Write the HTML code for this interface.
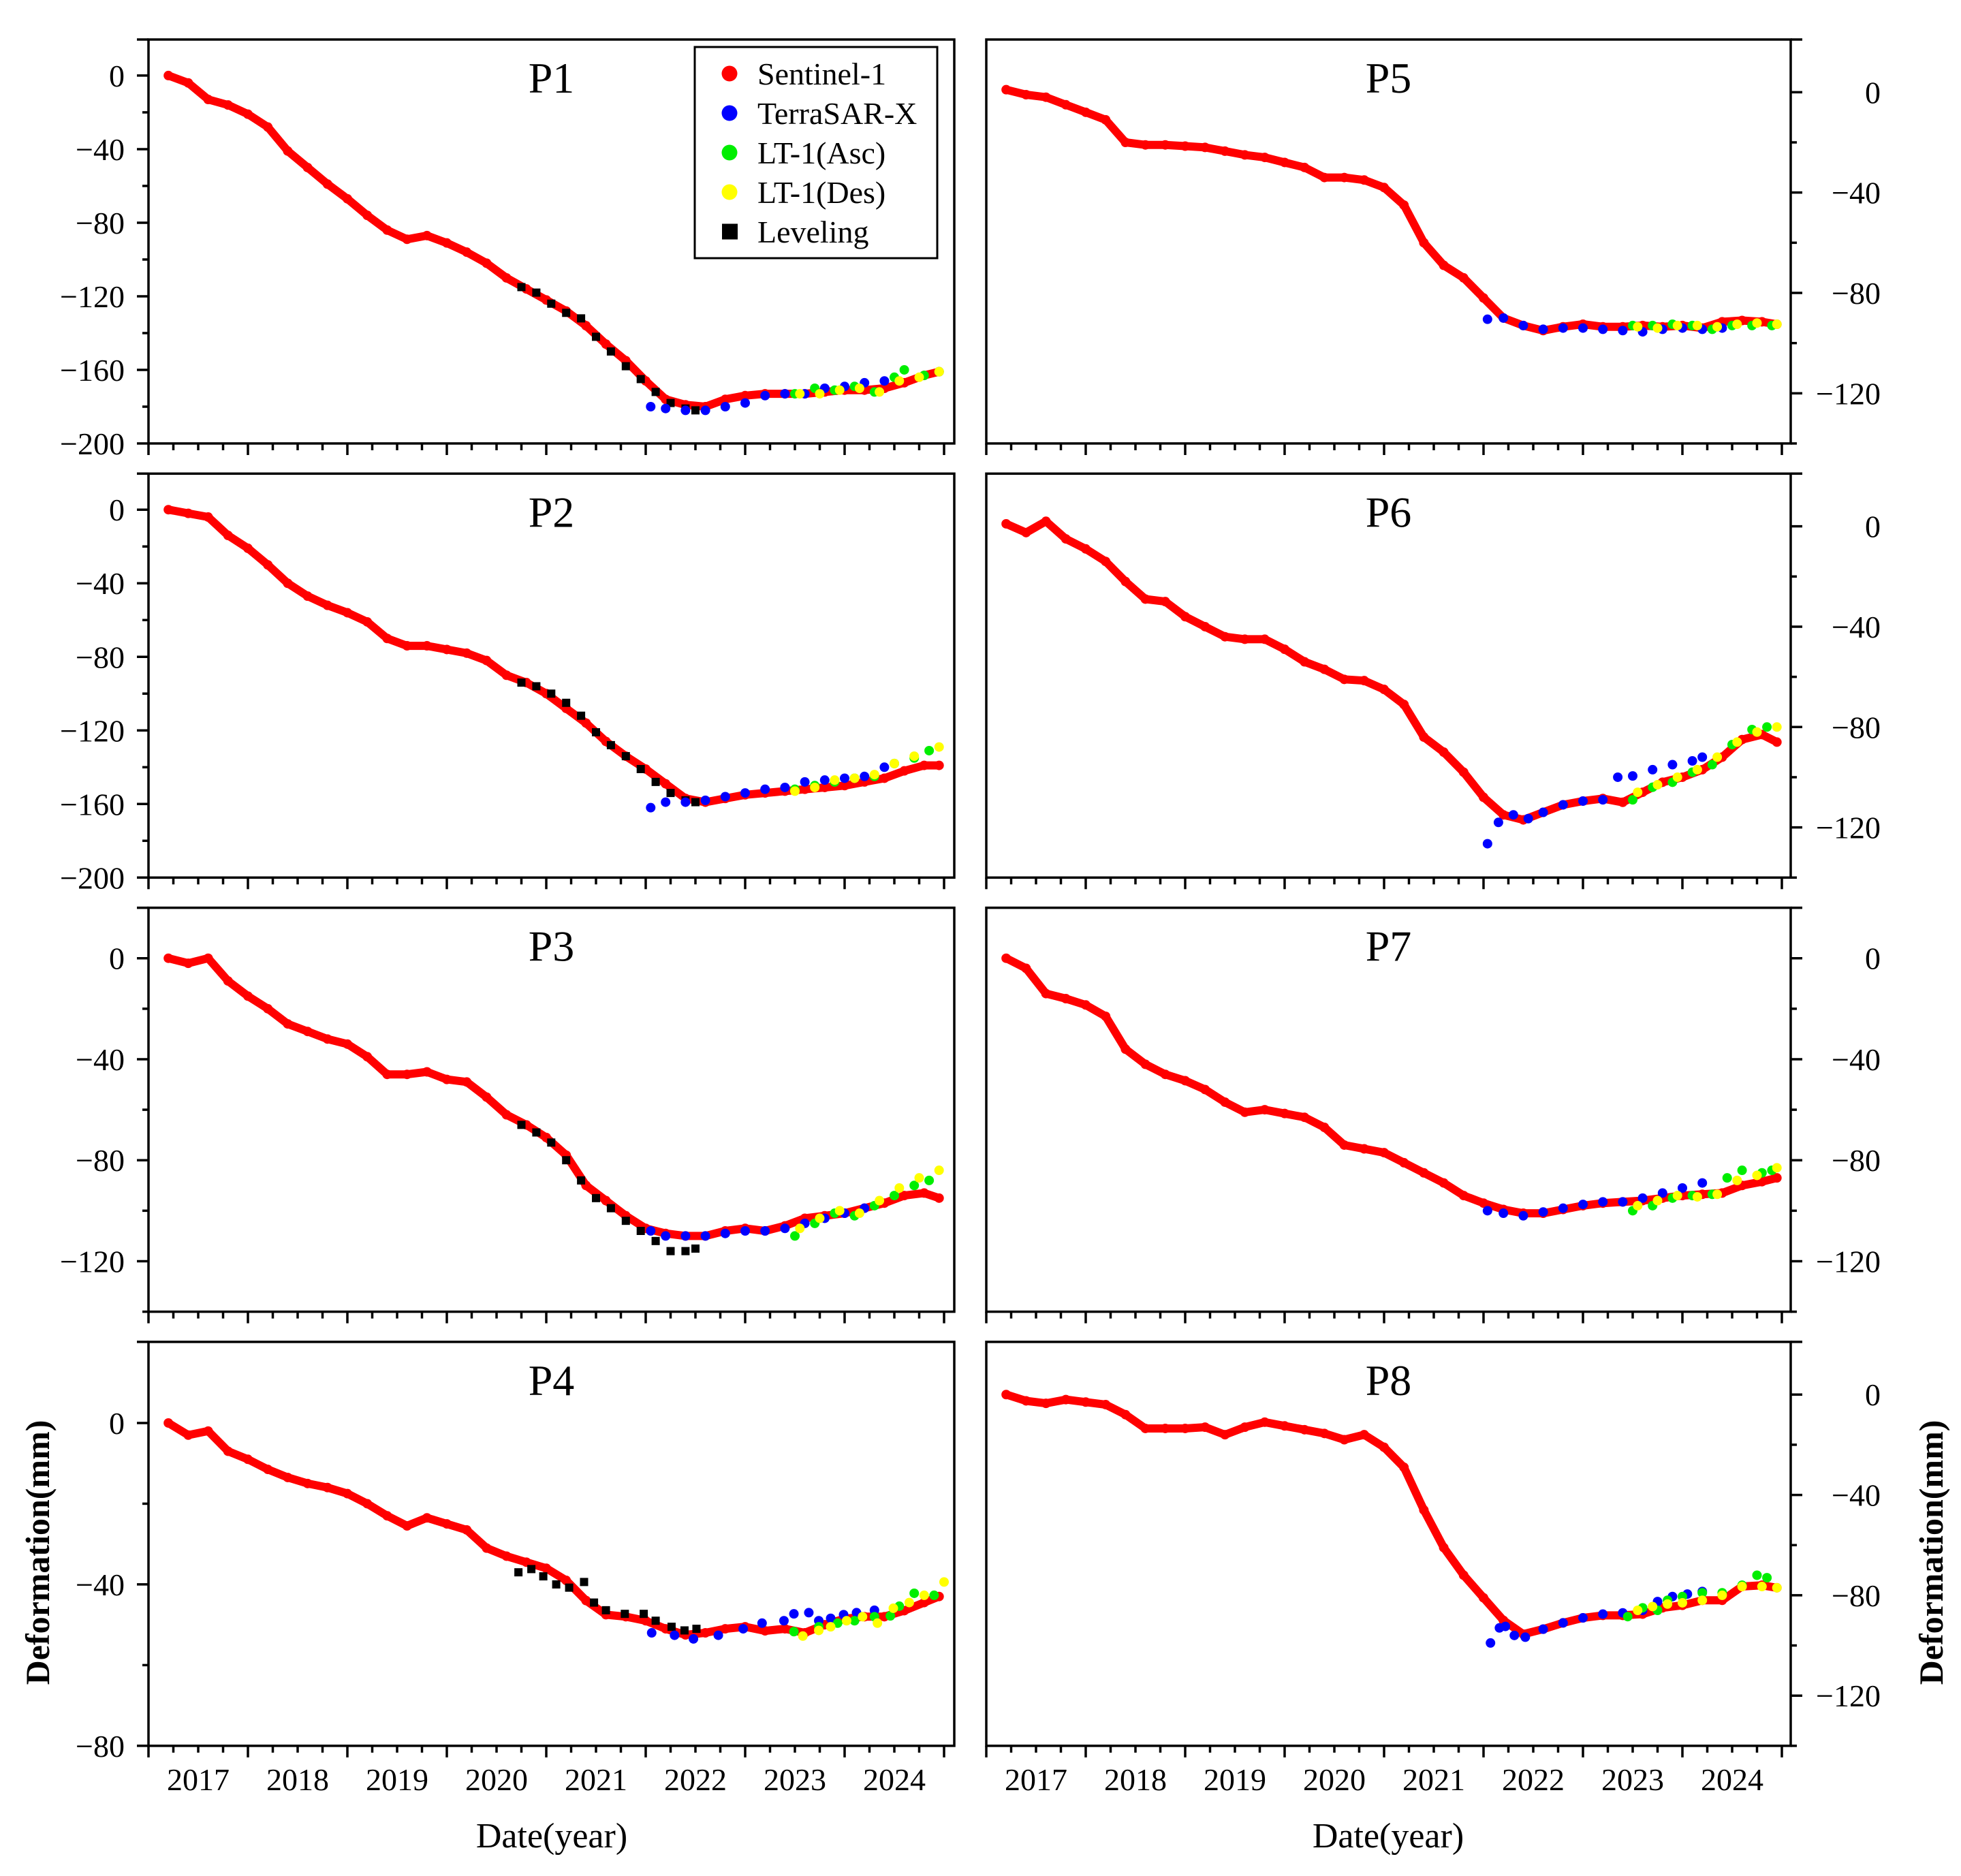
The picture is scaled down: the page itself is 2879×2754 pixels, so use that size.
<!DOCTYPE html>
<html><head><meta charset="utf-8"><style>
html,body{margin:0;padding:0;background:#fff;}
svg{display:block;font-family:"Liberation Serif",serif;}
</style></head><body>
<svg id="fig" xmlns="http://www.w3.org/2000/svg" width="2879" height="2754" viewBox="0 0 2879 2754">
<rect x="0" y="0" width="2879" height="2754" fill="#fff"/>
</svg>
<script>
// ---- shared categories ----
const s1Dates=[2017.2,2017.4,2017.6,2017.8,2018.0,2018.2,2018.4,2018.6,2018.8,2019.0,2019.2,2019.4,2019.6,2019.8,2020.0,2020.2,2020.4,2020.6,2020.8,2021.0,2021.2,2021.4,2021.6,2021.8,2022.0,2022.2,2022.4,2022.6,2022.8,2023.0,2023.2,2023.4,2023.6,2023.8,2024.0,2024.2,2024.4,2024.6,2024.8,2024.95];
const yearLabels=["2017","2018","2019","2020","2021","2022","2023","2024"];
const seriesNames=["Sentinel-1","TerraSAR-X","LT-1(Asc)","LT-1(Des)","Leveling"];

// ---- P1 ----
const p1S1=[0,-4,-13,-16,-21,-28,-41,-50,-59,-67,-76,-84,-89,-87,-91,-96,-102,-110,-116,-122,-128,-136,-146,-155,-166,-176,-179,-180,-176,-174,-173,-173,-173,-172,-171,-171,-170,-167,-163,-161];
const p1TsxD=[2022.05,2022.2,2022.4,2022.6,2022.8,2023.0,2023.2,2023.4,2023.6,2023.8,2024.0,2024.2,2024.4];
const p1TsxV=[-180,-181,-182,-182,-180,-178,-174,-173,-173,-170,-169,-167,-166];
const p1AscD=[2023.5,2023.7,2023.9,2024.1,2024.3,2024.5,2024.6,2024.8,2024.95];
const p1AscV=[-173,-170,-171,-169,-172,-164,-160,-163,-161];
const p1DesD=[2023.55,2023.75,2023.95,2024.15,2024.35,2024.55,2024.75,2024.95];
const p1DesV=[-173,-173,-171,-170,-172,-166,-164,-161];
const p1LevD=[2020.75,2020.9,2021.05,2021.2,2021.35,2021.5,2021.65,2021.8,2021.95,2022.1,2022.25,2022.4,2022.5];
const p1LevV=[-115,-118,-124,-129,-132,-142,-150,-158,-165,-172,-178,-181,-182];
// ---- P2 ----
const p2S1=[0,-2,-4,-14,-21,-30,-40,-47,-52,-56,-61,-70,-74,-74,-76,-78,-82,-90,-94,-100,-108,-116,-126,-134,-141,-149,-157,-159,-157,-155,-154,-153,-152,-151,-150,-148,-146,-142,-139,-139];
const p2TsxD=[2022.05,2022.2,2022.4,2022.6,2022.8,2023.0,2023.2,2023.4,2023.6,2023.8,2024.0,2024.2,2024.4];
const p2TsxV=[-162,-159,-159,-158,-156,-154,-152,-151,-148,-147,-146,-145,-140];
const p2AscD=[2023.5,2023.7,2023.9,2024.1,2024.3,2024.5,2024.7,2024.85];
const p2AscV=[-152,-150,-148,-146,-145,-138,-135,-131];
const p2DesD=[2023.5,2023.7,2023.9,2024.1,2024.3,2024.5,2024.7,2024.95];
const p2DesV=[-153,-151,-147,-146,-144,-138,-134,-129];
const p2LevD=[2020.75,2020.9,2021.05,2021.2,2021.35,2021.5,2021.65,2021.8,2021.95,2022.1,2022.25,2022.4,2022.5];
const p2LevV=[-94,-96,-100,-105,-112,-121,-128,-134,-141,-148,-154,-158,-159];
// ---- P3 ----
const p3S1=[0,-2,0,-9,-15,-20,-26,-29,-32,-34,-39,-46,-46,-45,-48,-49,-55,-62,-66,-71,-78,-90,-96,-102,-107,-109,-110,-110,-108,-107,-108,-106,-103,-102,-101,-99,-97,-94,-93,-95];
const p3TsxD=[2022.05,2022.2,2022.4,2022.6,2022.8,2023.0,2023.2,2023.4,2023.6,2023.8,2024.0,2024.2];
const p3TsxV=[-108,-110,-110,-110,-109,-108,-108,-107,-105,-103,-101,-99];
const p3AscD=[2023.5,2023.7,2023.9,2024.1,2024.3,2024.5,2024.7,2024.85];
const p3AscV=[-110,-105,-101,-102,-98,-94,-90,-88];
const p3DesD=[2023.55,2023.75,2023.95,2024.15,2024.35,2024.55,2024.75,2024.95];
const p3DesV=[-107,-103,-100,-101,-96,-91,-87,-84];
const p3LevD=[2020.75,2020.9,2021.05,2021.2,2021.35,2021.5,2021.65,2021.8,2021.95,2022.1,2022.25,2022.4,2022.5];
const p3LevV=[-66,-69,-73,-80,-88,-95,-99,-104,-108,-112,-116,-116,-115];
// ---- P4 ----
const p4S1=[0,-3,-2,-7,-9,-11.5,-13.5,-15,-16,-17.5,-20,-23,-25.5,-23.5,-25,-26.5,-31,-33,-34.5,-36,-39,-44,-47.5,-48,-49,-51,-52.5,-52,-51,-50.5,-51.5,-51,-52,-50,-48.5,-48,-48,-46.5,-44.5,-43];
const p4TsxD=[2022.06,2022.29,2022.48,2022.73,2022.98,2023.17,2023.39,2023.49,2023.64,2023.74,2023.86,2023.99,2024.12,2024.3];
const p4TsxV=[-52,-52.6,-53.5,-52.6,-51,-49.6,-49,-47.3,-47,-49,-48.4,-47.5,-47,-46.4];
const p4AscD=[2023.49,2023.74,2023.93,2024.1,2024.3,2024.46,2024.55,2024.7,2024.9];
const p4AscV=[-51.7,-50.5,-49.6,-49,-48,-47.8,-45.4,-42.2,-42.7];
const p4DesD=[2023.58,2023.74,2023.86,2024.02,2024.18,2024.33,2024.49,2024.65,2024.8,2025.0];
const p4DesV=[-52.8,-51.4,-50.5,-49,-48,-49.6,-45.9,-44.5,-42.7,-39.4];
const p4LevD=[2020.72,2020.85,2020.97,2021.1,2021.23,2021.38,2021.48,2021.6,2021.79,2021.98,2022.1,2022.26,2022.39,2022.51];
const p4LevV=[-37,-36.2,-38,-40,-40.8,-39.4,-44.5,-46.4,-47.3,-47.3,-49,-50.5,-51.4,-51];
// ---- P5 ----
const p5S1=[1,-1,-2,-5,-8,-11,-20,-21,-21,-21.5,-22,-23.5,-25,-26,-28,-30,-34,-34,-35,-38,-45,-60,-69,-74,-82,-90,-93,-95,-93.5,-92.5,-93.5,-93.5,-93,-93.5,-93,-94,-91.5,-91,-91.5,-92.5];
const p5TsxD=[2022.04,2022.2,2022.4,2022.6,2022.8,2023.0,2023.2,2023.4,2023.6,2023.8,2024.0,2024.2,2024.4];
const p5TsxV=[-90.5,-90,-93,-94.5,-94,-94,-94.5,-95,-95.5,-94.5,-94,-94.5,-94];
const p5AscD=[2023.5,2023.7,2023.9,2024.1,2024.3,2024.5,2024.7,2024.9];
const p5AscV=[-93,-93,-92.5,-93,-94.5,-93,-93,-93];
const p5DesD=[2023.55,2023.75,2023.95,2024.15,2024.35,2024.55,2024.75,2024.95];
const p5DesV=[-93.5,-94,-93,-93,-93.5,-92.5,-92,-92.5];
// ---- P6 ----
const p6S1=[1,-2.5,2,-5,-9,-14,-22,-29,-30,-36,-40,-44,-45,-45,-49,-54,-57,-61,-61.5,-65,-71,-84,-90,-98,-108,-115,-117,-114,-111,-109.5,-108.5,-110,-106,-102,-100,-97,-92,-85,-83,-86];
const p6TsxD=[2022.04,2022.15,2022.3,2022.45,2022.6,2022.8,2023.0,2023.2,2023.35,2023.5,2023.7,2023.9,2024.1,2024.2];
const p6TsxV=[-126.5,-118,-115,-116.5,-114,-111,-109.5,-109,-100,-99.5,-97,-95,-93.5,-92];
const p6AscD=[2023.5,2023.7,2023.9,2024.1,2024.3,2024.5,2024.7,2024.85];
const p6AscV=[-109,-104,-102,-98,-95,-87,-81,-80];
const p6DesD=[2023.55,2023.75,2023.95,2024.15,2024.35,2024.55,2024.75,2024.95];
const p6DesV=[-106,-103,-100,-97,-92,-86,-82,-80];
// ---- P7 ----
const p7S1=[0,-4,-14,-16,-18.5,-23,-36,-42,-46,-48.5,-52,-57,-61,-60,-61.5,-63,-67,-74,-75.5,-77,-81,-85,-89,-94,-97,-99.5,-101,-101,-99.5,-98,-97,-96.5,-96,-95,-94,-93.5,-93,-90,-88.5,-87];
const p7TsxD=[2022.04,2022.2,2022.4,2022.6,2022.8,2023.0,2023.2,2023.4,2023.6,2023.8,2024.0,2024.2];
const p7TsxV=[-100,-101,-102,-100.5,-99,-97.5,-96.5,-96.5,-95,-93,-91,-89];
const p7AscD=[2023.5,2023.7,2023.9,2024.1,2024.3,2024.45,2024.6,2024.8,2024.9];
const p7AscV=[-100,-98,-95,-94,-93.5,-87,-84,-85,-84];
const p7DesD=[2023.55,2023.75,2023.95,2024.15,2024.35,2024.55,2024.75,2024.95];
const p7DesV=[-98,-96,-94,-94.5,-93.5,-88,-86,-83];
// ---- P8 ----
const p8S1=[0,-2.5,-3.5,-2,-3,-4,-8,-13.5,-13.5,-13.5,-13,-16,-13,-11,-12.5,-14,-15.5,-18,-16,-21,-29,-46,-61,-72,-81,-90,-95.5,-93.5,-91,-89,-88,-88,-87.5,-85,-84,-82,-82,-76.5,-76,-77];
const p8TsxD=[2022.07,2022.16,2022.22,2022.31,2022.42,2022.6,2022.8,2023.0,2023.2,2023.4,2023.6,2023.75,2023.9,2024.05,2024.2];
const p8TsxV=[-99,-93,-92.4,-96,-96.7,-93.5,-91,-89,-87.5,-87,-86,-82.5,-80.5,-79.5,-78.5];
const p8AscD=[2023.45,2023.6,2023.75,2023.85,2024.0,2024.2,2024.4,2024.6,2024.75,2024.85];
const p8AscV=[-88.5,-85,-86,-82,-80.5,-79,-79,-76,-72,-73];
const p8DesD=[2023.55,2023.7,2023.85,2024.0,2024.2,2024.4,2024.6,2024.8,2024.95];
const p8DesV=[-86,-84.5,-83.5,-83,-82,-80,-76.5,-76.5,-77];

const NS="http://www.w3.org/2000/svg";
const svg=document.getElementById('fig');
function mk(tag,attrs,parent){const e=document.createElementNS(NS,tag);for(const k in attrs)e.setAttribute(k,attrs[k]);(parent||svg).appendChild(e);return e;}

const YR=146, PH=593, ROWSTEP=637.3;
const panels=[
 {name:"P1",col:0,row:0,top:19.6,bot:-200,ticks:[0,-40,-80,-120,-160,-200],s1:p1S1,tsx:[p1TsxD,p1TsxV],asc:[p1AscD,p1AscV],des:[p1DesD,p1DesV],lev:[p1LevD,p1LevV]},
 {name:"P2",col:0,row:1,top:19.6,bot:-200,ticks:[0,-40,-80,-120,-160,-200],s1:p2S1,tsx:[p2TsxD,p2TsxV],asc:[p2AscD,p2AscV],des:[p2DesD,p2DesV],lev:[p2LevD,p2LevV]},
 {name:"P3",col:0,row:2,top:20,bot:-140,ticks:[0,-40,-80,-120],s1:p3S1,tsx:[p3TsxD,p3TsxV],asc:[p3AscD,p3AscV],des:[p3DesD,p3DesV],lev:[p3LevD,p3LevV]},
 {name:"P4",col:0,row:3,top:20.1,bot:-80,ticks:[0,-40,-80],s1:p4S1,tsx:[p4TsxD,p4TsxV],asc:[p4AscD,p4AscV],des:[p4DesD,p4DesV],lev:[p4LevD,p4LevV]},
 {name:"P5",col:1,row:0,top:21,bot:-140,ticks:[0,-40,-80,-120],s1:p5S1,tsx:[p5TsxD,p5TsxV],asc:[p5AscD,p5AscV],des:[p5DesD,p5DesV],lev:null},
 {name:"P6",col:1,row:1,top:21,bot:-140,ticks:[0,-40,-80,-120],s1:p6S1,tsx:[p6TsxD,p6TsxV],asc:[p6AscD,p6AscV],des:[p6DesD,p6DesV],lev:null},
 {name:"P7",col:1,row:2,top:20,bot:-140,ticks:[0,-40,-80,-120],s1:p7S1,tsx:[p7TsxD,p7TsxV],asc:[p7AscD,p7AscV],des:[p7DesD,p7DesV],lev:null},
 {name:"P8",col:1,row:3,top:21,bot:-140,ticks:[0,-40,-80,-120],s1:p8S1,tsx:[p8TsxD,p8TsxV],asc:[p8AscD,p8AscV],des:[p8DesD,p8DesV],lev:null}
];
const colX=[[218,1401],[1448,2629]];
const fmt=v=>v<0?"\u2212"+Math.abs(v):String(v);

panels.forEach(p=>{
  const x0=colX[p.col][0], x1=colX[p.col][1];
  const y0=58+p.row*ROWSTEP, y1=y0+PH;
  const xs=d=>x0+(d-2017)*YR;
  const ys=v=>y0+(p.top-v)/(p.top-p.bot)*PH;
  const g=mk('g',{});
  
  
  const cid='clip'+p.name;
  const cp=mk('clipPath',{id:cid},g);mk('rect',{x:x0,y:y0,width:x1-x0,height:PH},cp);
  const dg=mk('g',{'clip-path':'url(#'+cid+')'},g);
  const pts=s1Dates.map((d,i)=>xs(d).toFixed(1)+','+ys(p.s1[i]).toFixed(1)).join(' ');
  const pl=mk('polyline',{points:pts,fill:'none',stroke:'#ff0000','stroke-width':12,'stroke-linejoin':'round','stroke-linecap':'round'},dg);
  
  
  s1Dates.forEach((d,i)=>{const c=mk('circle',{cx:xs(d),cy:ys(p.s1[i]),r:7,fill:'#ff0000'},dg);
    
    });
  if(p.lev){p.lev[0].forEach((d,i)=>{const r=mk('rect',{x:xs(d)-6,y:ys(p.lev[1][i])-6,width:12,height:12,fill:'#000'},dg);
    
    });}
  const dots=(arr,col,nm)=>arr[0].forEach((d,i)=>{const c=mk('circle',{cx:xs(d),cy:ys(arr[1][i]),r:7,fill:col},dg);
    
    });
  dots(p.tsx,'#0000ff','terrasar-x-point');
  dots(p.asc,'#00ee00','lt1-asc-point');
  dots(p.des,'#ffff00','lt1-des-point');
  const fr=mk('rect',{x:x0,y:y0,width:x1-x0,height:PH,fill:'none',stroke:'#000','stroke-width':3.5},g);
  
  
  for(let q=0;q<=32;q++){const d=2017+q/4;const x=xs(d);if(x>x1)break;
    const L=(q%4===0)?17:10;mk('line',{x1:x,y1:y1,x2:x,y2:y1+L,stroke:'#000','stroke-width':3.5},g);}
  if(p.row===3){
    yearLabels.forEach((t,i)=>{const tx=mk('text',{x:xs(2017.5+i),y:y1+65,'font-size':46,'text-anchor':'middle',fill:'#000'},g);tx.textContent=t;
      
      });
  }
  const ax=p.col===0?x0:x1, dir=p.col===0?-1:1;
  for(let v=0;v>=p.bot;v-=20){const y=ys(v);const L=(v%40===0)?17:9;mk('line',{x1:ax,y1:y,x2:ax+dir*L,y2:y,stroke:'#000','stroke-width':3.5},g);}
  mk('line',{x1:ax,y1:y0,x2:ax+dir*17,y2:y0,stroke:'#000','stroke-width':3.5},g);
  p.ticks.forEach(v=>{const lx=p.col===0?x0-35:x1+132;
    const tx=mk('text',{x:lx,y:ys(v)+16,'font-size':46,'text-anchor':'end',fill:'#000'},g);tx.textContent=fmt(v);
    
    });
  const tt=mk('text',{x:(x0+x1)/2,y:y0+78,'font-size':64,'text-anchor':'middle',fill:'#000'},g);tt.textContent=p.name;
  
  
});

const lg=mk('g',{});


mk('rect',{x:1020,y:69,width:356,height:310,fill:'#fff',stroke:'#000','stroke-width':3},lg);
const legCols=['#ff0000','#0000ff','#00ee00','#ffff00','#000'];
seriesNames.forEach((n,i)=>{const y=108+58*i;
  if(i<4)mk('circle',{cx:1071,cy:y,r:11.5,fill:legCols[i]},lg);else mk('rect',{x:1060,y:y-11.5,width:23,height:23,fill:'#000'},lg);
  const t=mk('text',{x:1112,y:y+16,'font-size':46,fill:'#000'},lg);t.textContent=n;
  
  });

[[810,'x-axis-title-left'],[2038,'x-axis-title-right']].forEach(a=>{const t=mk('text',{x:a[0],y:2712,'font-size':52,'text-anchor':'middle',fill:'#000'});t.textContent='Date(year)';
  
  });
[[72,'y-axis-title-left'],[2852,'y-axis-title-right']].forEach(a=>{const t=mk('text',{x:a[0],y:2279,'font-size':50,'font-weight':'bold','text-anchor':'middle',fill:'#000',transform:'rotate(-90 '+a[0]+' 2279)'});t.textContent='Deformation(mm)';
  
  });
</script>
</body></html>
